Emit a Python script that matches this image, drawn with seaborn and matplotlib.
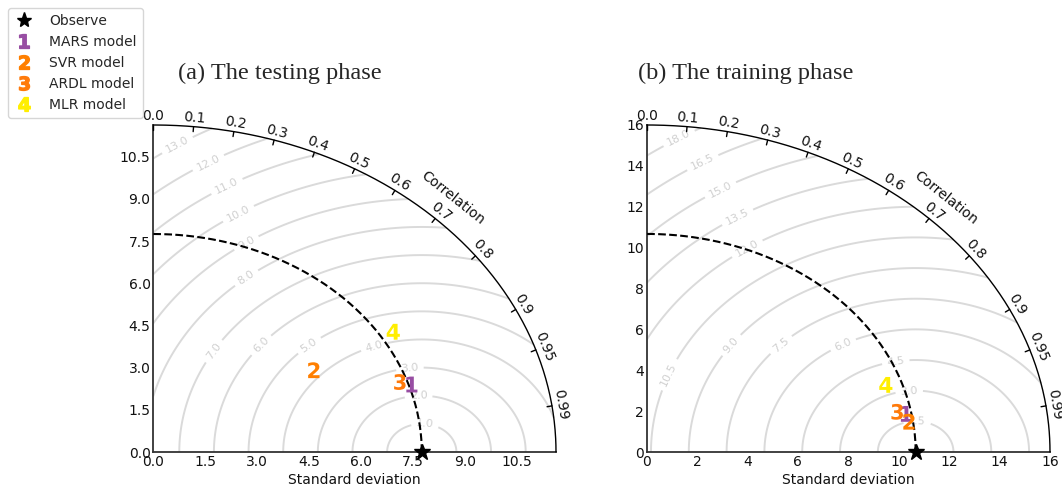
import numpy as np
import pandas as pd
import matplotlib
matplotlib.use("Agg")
import matplotlib.pyplot as plt
import seaborn as sns
from matplotlib.lines import Line2D

# ---------------- data ----------------
models = ["MARS model", "SVR model", "ARDL model", "MLR model"]
model_ids = ["1", "2", "3", "4"]
colors = ["#984ea3", "#ff7f00", "#ff7a0a", "#ffee00"]

test_ref_std = 7.75
test_std = [7.84, 5.47, 7.54, 8.14]
test_corr = [0.952, 0.847, 0.944, 0.851]

train_ref_std = 10.67
train_std = [10.47, 10.51, 10.13, 10.04]
train_corr = [0.984, 0.990, 0.981, 0.945]

corr_ticks = [0.0, 0.1, 0.2, 0.3, 0.4, 0.5, 0.6, 0.7, 0.8, 0.9, 0.95, 0.99]
test_std_ticks = [0.0, 1.5, 3.0, 4.5, 6.0, 7.5, 9.0, 10.5]
train_std_ticks = [0, 2, 4, 6, 8, 10, 12, 14, 16]
test_levels = [1.0, 2.0, 3.0, 4.0, 5.0, 6.0, 7.0, 8.0, 9.0, 10.0, 11.0, 12.0, 13.0]
train_levels = [1.5, 3.0, 4.5, 6.0, 7.5, 9.0, 10.5, 12.0, 13.5, 15.0, 16.5, 18.0]

test_label_pos = [(7.84, 0.95), (7.66, 1.94), (7.41, 2.94), (6.40, 3.66), (4.56, 3.69),
                  (3.2, 3.69), (1.82, 3.52), (2.76, 6.06), (2.71, 7.38), (2.52, 8.32),
                  (2.13, 9.43), (1.65, 10.13), (0.78, 10.71)]
train_label_pos = [(10.73, 1.48), (10.41, 3.03), (9.88, 4.42), (7.77, 5.32), (5.34, 5.23),
                   (3.36, 5.23), (0.92, 3.77), (3.95, 10.04), (3.56, 11.6), (2.90, 12.9),
                   (2.24, 14.12), (1.32, 15.26)]

# ---------------- style ----------------
sns.set_style("white")
plt.rcParams["font.family"] = ["DejaVu Sans"]
plt.rcParams["mathtext.fontset"] = "dejavusans"

W, H = 1062, 490
fig = plt.figure(figsize=(W / 100, H / 100), dpi=100)

marker_map = {m: r"$\mathbf{%s}$" % i for m, i in zip(models, model_ids)}
palette = dict(zip(models, colors))


def taylor(ax, ref, stds, corrs, rmax, sticks, levels, lpos, fmt):
    ax.set_xlim(0, rmax)
    ax.set_ylim(0, rmax)
    for s in ["top", "right"]:
        ax.spines[s].set_visible(False)
    for s in ["left", "bottom"]:
        ax.spines[s].set_color("#333333")
        ax.spines[s].set_linewidth(1.3)

    # RMS contours
    rs = np.linspace(0, rmax, 300)
    ts = np.linspace(0, np.pi / 2, 300)
    R, T = np.meshgrid(rs, ts)
    X, Y = R * np.cos(T), R * np.sin(T)
    Z = np.sqrt(ref ** 2 + R ** 2 - 2 * ref * R * np.cos(T))
    cs = ax.contour(X, Y, Z, levels=levels, colors="#dadada", linewidths=1.4, zorder=1)
    ax.clabel(cs, inline=True, fontsize=8, fmt="%.1f", manual=lpos, colors="#d0d0d0")

    # outer arc
    t = np.linspace(0, np.pi / 2, 300)
    ax.plot(rmax * np.cos(t), rmax * np.sin(t), color="k", lw=1.0, clip_on=False, zorder=3)
    # reference circle
    ax.plot(ref * np.cos(t), ref * np.sin(t), color="k", ls="--", lw=1.5, zorder=3)

    # correlation ticks & labels
    sx = ax.transData.transform((1, 0))[0] - ax.transData.transform((0, 0))[0]
    sy = ax.transData.transform((0, 1))[1] - ax.transData.transform((0, 0))[1]
    inv = ax.transData.inverted()
    for c in corr_ticks:
        th = np.arccos(c)
        px, py = ax.transData.transform((rmax * np.cos(th), rmax * np.sin(th)))
        nx, ny = sy * np.cos(th), sx * np.sin(th)
        nn = np.hypot(nx, ny)
        nx, ny = nx / nn, ny / nn
        p0 = inv.transform((px - 5 * nx, py - 5 * ny))
        ax.plot([p0[0], rmax * np.cos(th)], [p0[1], rmax * np.sin(th)], color="k",
                lw=1.0, clip_on=False, zorder=3)
        lp = inv.transform((px + 9 * nx, py + 9 * ny))
        rot = np.degrees(np.arctan2(-sy * np.cos(th), sx * np.sin(th)))
        lab = ("%.2f" % c).rstrip("0")
        if lab.endswith("."):
            lab += "0"
        ax.text(lp[0], lp[1], lab, rotation=rot, ha="center", va="center",
                rotation_mode="anchor", fontsize=10, color="#111111", clip_on=False)
    th = np.radians(45.5)
    px, py = ax.transData.transform((rmax * np.cos(th), rmax * np.sin(th)))
    nx, ny = sy * np.cos(th), sx * np.sin(th)
    nn = np.hypot(nx, ny)
    lp = inv.transform((px + 27 * nx / nn, py + 27 * ny / nn))
    rot = np.degrees(np.arctan2(-sy * np.cos(th), sx * np.sin(th)))
    ax.text(lp[0], lp[1], "Correlation", rotation=rot, ha="center", va="center",
            rotation_mode="anchor", fontsize=10, color="#111111", clip_on=False)

    # observation star
    ax.plot([ref], [0], marker="*", color="k", ms=12, ls="none", clip_on=False, zorder=6)

    # model points
    corrs = np.array(corrs)
    stds = np.array(stds)
    df = pd.DataFrame({"model": models,
                       "x": stds * corrs,
                       "y": stds * np.sin(np.arccos(corrs))})
    sns.scatterplot(data=df, x="x", y="y", hue="model", style="model",
                    palette=palette, markers=marker_map, s=130, linewidth=0,
                    legend=False, ax=ax, zorder=5, clip_on=False)

    ax.set_xticks(sticks)
    ax.set_yticks(sticks)
    ax.set_xticklabels([fmt % v for v in sticks])
    ax.set_yticklabels([fmt % v for v in sticks])
    ax.tick_params(direction="in", length=4, width=1, labelsize=10,
                   colors="#333333", labelcolor="#111111", pad=2)
    ax.set_xlabel("Standard deviation", fontsize=10, labelpad=3, color="#111111")
    ax.set_ylabel("")


ax1 = fig.add_axes([153.3 / W, 38 / H, (556 - 153.3) / W, 327 / H])
ax2 = fig.add_axes([646.7 / W, 38 / H, (1050 - 646.7) / W, 327 / H])

taylor(ax1, test_ref_std, test_std, test_corr, 1.5 * test_ref_std,
       test_std_ticks, test_levels, test_label_pos, "%.1f")
taylor(ax2, train_ref_std, train_std, train_corr, 16.0,
       train_std_ticks, train_levels, train_label_pos, "%d")

fig.text(280 / W, 1 - 73 / H, "(a) The testing phase", ha="center", va="center",
         fontsize=17.5, family=["Liberation Serif"])
fig.text(746 / W, 1 - 73 / H, "(b) The training phase", ha="center", va="center",
         fontsize=17.5, family=["Liberation Serif"])

handles = [Line2D([], [], marker="*", color="k", ls="none", ms=11, label="Observe")]
for m, i, c in zip(models, model_ids, colors):
    handles.append(Line2D([], [], marker=r"$\mathbf{%s}$" % i, color=c, ls="none",
                          ms=10, label=m))
fig.legend(handles=handles, loc="upper left", bbox_to_anchor=(8 / W, 1 - 8 / H),
           fontsize=10, frameon=True, handlelength=1.4, handletextpad=1.1,
           borderpad=0.45, borderaxespad=0, labelspacing=0.5,
           edgecolor="#cccccc", fancybox=True)

fig.savefig("out.png", dpi=100, facecolor="white")
